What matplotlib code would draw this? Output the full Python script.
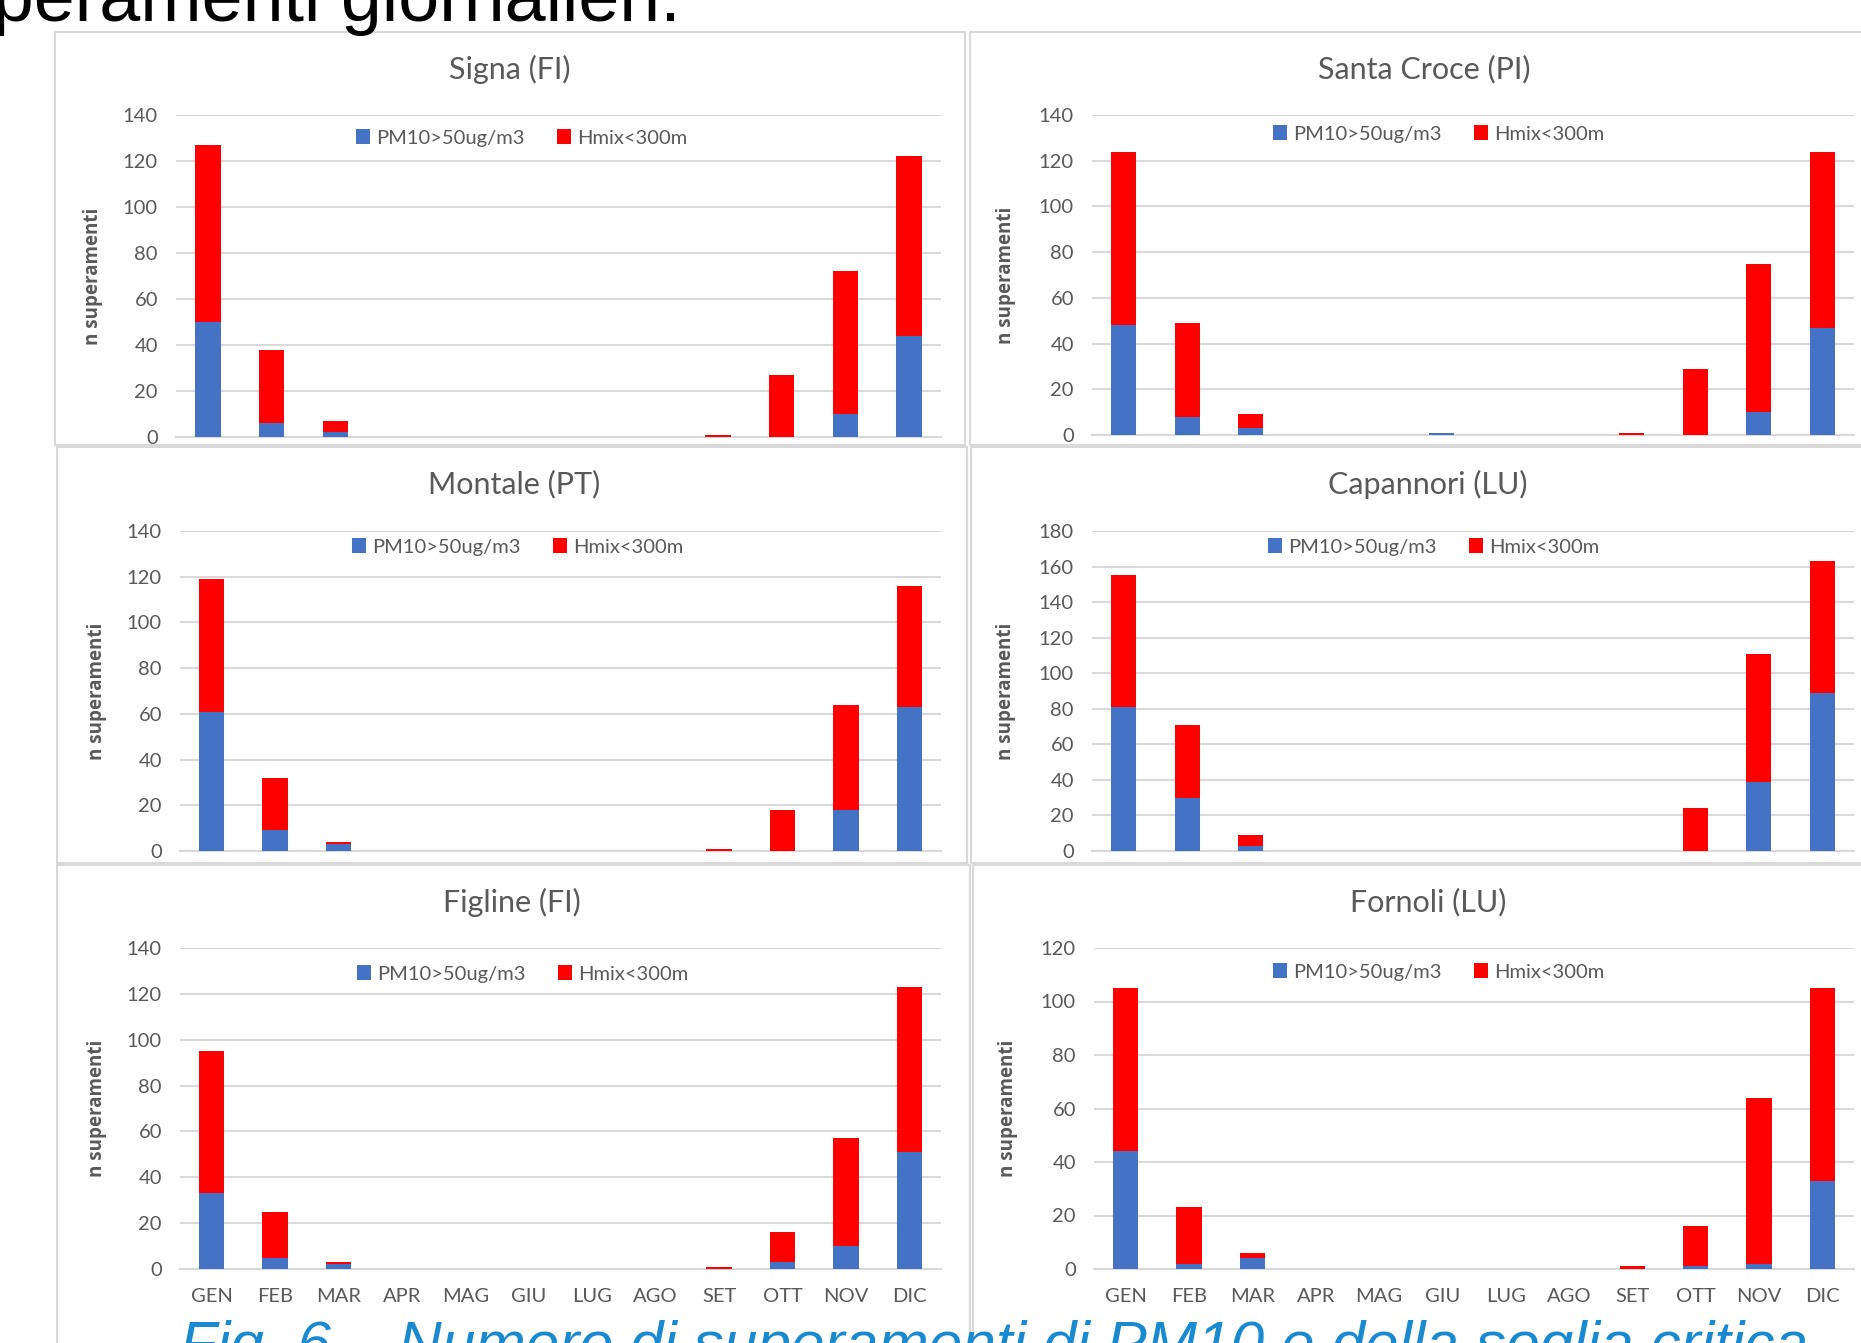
import matplotlib.pyplot as plt
from matplotlib.patches import Rectangle

# months and data
mesi = ['GEN', 'FEB', 'MAR', 'APR', 'MAG', 'GIU', 'LUG', 'AGO', 'SET', 'OTT', 'NOV', 'DIC']

signa_pm10 = [50, 6, 2, 0, 0, 0, 0, 0, 0, 0, 10, 44]
signa_hmix = [77, 32, 5, 0, 0, 0, 0, 0, 1, 27, 62, 78]

scroce_pm10 = [48, 8, 3, 0, 0, 1, 0, 0, 0, 0, 10, 47]
scroce_hmix = [76, 41, 6, 0, 0, 0, 0, 0, 1, 29, 65, 77]

montale_pm10 = [61, 9, 3, 0, 0, 0, 0, 0, 0, 0, 18, 63]
montale_hmix = [58, 23, 1, 0, 0, 0, 0, 0, 1, 18, 46, 53]

capannori_pm10 = [81, 30, 3, 0, 0, 0, 0, 0, 0, 0, 39, 89]
capannori_hmix = [74, 41, 6, 0, 0, 0, 0, 0, 0, 24, 72, 74]

figline_pm10 = [33, 5, 2, 0, 0, 0, 0, 0, 0, 3, 10, 51]
figline_hmix = [62, 20, 1, 0, 0, 0, 0, 0, 1, 13, 47, 72]

fornoli_pm10 = [44, 2, 4, 0, 0, 0, 0, 0, 0, 1, 2, 33]
fornoli_hmix = [61, 21, 2, 0, 0, 0, 0, 0, 1, 15, 62, 72]

W, H = 1861, 1343
fig = plt.figure(figsize=(W / 100, H / 100), dpi=100)

BLUE = '#4472C4'
RED = '#FF0000'
GRID = '#D9D9D9'
TXT = '#595959'
NARROW = ['Lato', 'DejaVu Sans']


def fx(px):
    return px / W


def fy(py):
    return 1 - py / H


# panel frames (pixel boxes)
frames = [(55, 32, 965, 445), (970, 32, 1875, 445),
          (57, 447, 967, 863), (971, 447, 1875, 863),
          (57, 865, 970, 1360), (973, 865, 1875, 1360)]
for x0, y0, x1, y1 in frames:
    fig.patches.append(Rectangle((fx(x0), fy(y1)), fx(x1) - fx(x0), fy(y0) - fy(y1),
                                 transform=fig.transFigure, fill=False,
                                 edgecolor=GRID, lw=1.5, zorder=0))

# (title, pm10, hmix, ymax, axes box px, title pos, legend pos, xlabels)
panels = [
    ('Signa (FI)', signa_pm10, signa_hmix, 140, (176, 115, 941, 437), (510, 69), (522, 138), False),
    ('Santa Croce (PI)', scroce_pm10, scroce_hmix, 140, (1092, 115, 1854, 435), (1424, 69), (1439, 134), False),
    ('Montale (PT)', montale_pm10, montale_hmix, 140, (180, 531, 941, 851), (514, 484), (518, 547), False),
    ('Capannori (LU)', capannori_pm10, capannori_hmix, 180, (1092, 531, 1854, 851), (1428, 484), (1434, 547), False),
    ('Figline (FI)', figline_pm10, figline_hmix, 140, (180, 948, 941, 1269), (512, 902), (523, 974), True),
    ('Fornoli (LU)', fornoli_pm10, fornoli_hmix, 120, (1094, 948, 1854, 1269), (1428, 902), (1439, 972), True),
]

x = list(range(len(mesi)))

for title, pm10, hmix, ymax, box, tpos, lpos, xlab in panels:
    x0, y0, x1, y1 = box
    ax = fig.add_axes([fx(x0), fy(y1), fx(x1) - fx(x0), fy(y0) - fy(y1)])
    ax.bar(x, pm10, width=0.4, color=BLUE, label='PM10>50ug/m3', zorder=3)
    ax.bar(x, hmix, width=0.4, bottom=pm10, color=RED, label='Hmix<300m', zorder=3)
    ax.set_xlim(-0.5, 11.5)
    ax.set_ylim(0, ymax)
    ax.set_yticks(range(0, ymax + 1, 20))
    ax.grid(axis='y', color=GRID, lw=1.5, zorder=0)
    for s in ['top', 'right', 'left']:
        ax.spines[s].set_visible(False)
    ax.spines['bottom'].set_color(GRID)
    ax.spines['bottom'].set_linewidth(1.5)
    ax.tick_params(length=0, labelcolor=TXT, labelsize=14.5)
    ax.tick_params(axis='y', pad=13)
    for lbl in ax.get_yticklabels():
        lbl.set_family(NARROW)
    ax.set_xticks(x)
    if xlab:
        ax.set_xticklabels(mesi, family=NARROW, fontsize=14.5, color=TXT)
        ax.tick_params(axis='x', pad=14)
    else:
        ax.set_xticklabels([])
    ax.set_ylabel('n superamenti', fontsize=13.5, color=TXT, family='Open Sans', fontweight='bold')
    ax.yaxis.set_label_coords(-0.096 if x0 < 500 else -0.1, 0.5)
    fig.text(fx(tpos[0]), fy(tpos[1]), title, ha='center', va='center',
             fontsize=22, color=TXT, family=NARROW)
    ax.legend(loc='center', bbox_to_anchor=(fx(lpos[0]), fy(lpos[1])), bbox_transform=fig.transFigure,
              ncol=2, frameon=False, handlelength=0.7, handleheight=0.7, handletextpad=0.3,
              columnspacing=1.6, prop={'family': NARROW, 'size': 14.5}, labelcolor=TXT)

# slide text cut at the edges
fig.text(fx(-85), fy(21), 'superamenti giornalieri:', ha='left', va='baseline',
         fontsize=53, color='black', family='Liberation Sans')
fig.text(fx(180), fy(1363), 'Fig. 6 \u2013 Numero di superamenti di PM10 e della soglia critica',
         ha='left', va='baseline', fontsize=43.5, color='#1A8AD0', family='Liberation Sans', style='italic')

fig.savefig('out.png', dpi=100)
